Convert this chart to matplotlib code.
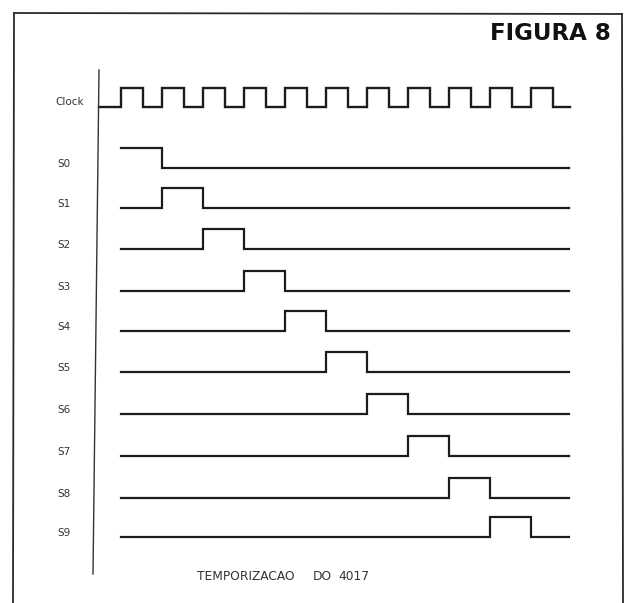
import matplotlib
matplotlib.use("Agg")
import matplotlib.pyplot as plt
from matplotlib.lines import Line2D

# ---------------- data ----------------
signal_names = ["Clock", "S0", "S1", "S2", "S3", "S4", "S5", "S6", "S7", "S8", "S9"]

# clock: level in each half-period, starting half a period before the first rising edge
clock_levels = [0, 1, 0, 1, 0, 1, 0, 1, 0, 1, 0, 1, 0, 1, 0, 1, 0, 1, 0, 1, 0, 1, 0]

# decoded outputs: level during each of the 11 clock cycles
output_levels = {
    "S0": [1, 0, 0, 0, 0, 0, 0, 0, 0, 0, 0],
    "S1": [0, 1, 0, 0, 0, 0, 0, 0, 0, 0, 0],
    "S2": [0, 0, 1, 0, 0, 0, 0, 0, 0, 0, 0],
    "S3": [0, 0, 0, 1, 0, 0, 0, 0, 0, 0, 0],
    "S4": [0, 0, 0, 0, 1, 0, 0, 0, 0, 0, 0],
    "S5": [0, 0, 0, 0, 0, 1, 0, 0, 0, 0, 0],
    "S6": [0, 0, 0, 0, 0, 0, 1, 0, 0, 0, 0],
    "S7": [0, 0, 0, 0, 0, 0, 0, 1, 0, 0, 0],
    "S8": [0, 0, 0, 0, 0, 0, 0, 0, 1, 0, 0],
    "S9": [0, 0, 0, 0, 0, 0, 0, 0, 0, 1, 0],
}

title_text = "FIGURA 8"
caption_words = ["TEMPORIZACAO", "DO", "4017"]

# ---------------- layout ----------------
W, H = 629, 603
x0_px, unit_px = 121.0, 41.0          # pixel of t=0 and pixels per clock period
row_base_px = {"Clock": 107, "S0": 168, "S1": 208, "S2": 249, "S3": 291, "S4": 331,
               "S5": 372, "S6": 414, "S7": 456, "S8": 498, "S9": 537}
pulse_h_px = 20
clock_h_px = 19
high_frac = 0.53      # clock duty
t_end = 10.92
ink = "#1c1c1c"
caption_x_px = [197, 313, 338]

fig = plt.figure(figsize=(W / 100, H / 100), dpi=100)
fig.patch.set_facecolor("white")
ax = fig.add_axes([0, 0, 1, 1])
ax.set_xlim(-x0_px / unit_px, (W - x0_px) / unit_px)
ax.set_ylim(H, 0)
ax.axis("off")

# clock waveform
ts, ys = [], []
t = -0.54
base = row_base_px["Clock"]
for i, lv in enumerate(clock_levels):
    if i == 0:
        t_next = 0.0
    elif i % 2 == 1:
        t_next = (i - 1) // 2 + high_frac
    else:
        t_next = i // 2
    if i == len(clock_levels) - 1:
        t_next = t_end + 0.03
    y = base - lv * clock_h_px
    ts += [t, t_next]
    ys += [y, y]
    t = t_next
ax.plot(ts, ys, color=ink, lw=1.7, solid_joinstyle="miter")

# outputs
for name, levels in output_levels.items():
    base = row_base_px[name]
    ts, ys = [], []
    for k, lv in enumerate(levels):
        te = k + 1 if k < len(levels) - 1 else t_end
        y = base - lv * pulse_h_px
        ts += [k, te]
        ys += [y, y]
    ax.plot(ts, ys, color=ink, lw=1.6, solid_joinstyle="miter")

# labels
def fx(x):
    return x / W

def fy(y):
    return 1 - y / H

fig.text(fx(55), fy(row_base_px["Clock"] - 5), "Clock", fontsize=7.5, color="#333333",
         ha="left", va="center", family="DejaVu Sans")
for name in signal_names[1:]:
    fig.text(fx(57), fy(row_base_px[name] - 4), name, fontsize=7.5, color="#333333",
             ha="left", va="center", family="DejaVu Sans")

fig.text(fx(611), fy(33), title_text, fontsize=16.5, fontweight="bold", color="#111111",
         ha="right", va="center", family="DejaVu Sans")
for word, xp in zip(caption_words, caption_x_px):
    fig.text(fx(xp), fy(576), word, fontsize=8.8, color="#333333",
             ha="left", va="center", family="DejaVu Sans")

# frame and vertical axis
frame_kw = dict(color="#2a2a2a", lw=1.3, transform=fig.transFigure)
fig.add_artist(Line2D([fx(14), fx(622)], [fy(13), fy(14)], **frame_kw))
fig.add_artist(Line2D([fx(14), fx(13)], [fy(13), fy(603)], **frame_kw))
fig.add_artist(Line2D([fx(622), fx(623)], [fy(14), fy(603)], **frame_kw))
fig.add_artist(Line2D([fx(99), fx(93)], [fy(70), fy(574)], color="#333333", lw=1.0,
                      transform=fig.transFigure))

fig.savefig("out.png", dpi=100, facecolor="white")
